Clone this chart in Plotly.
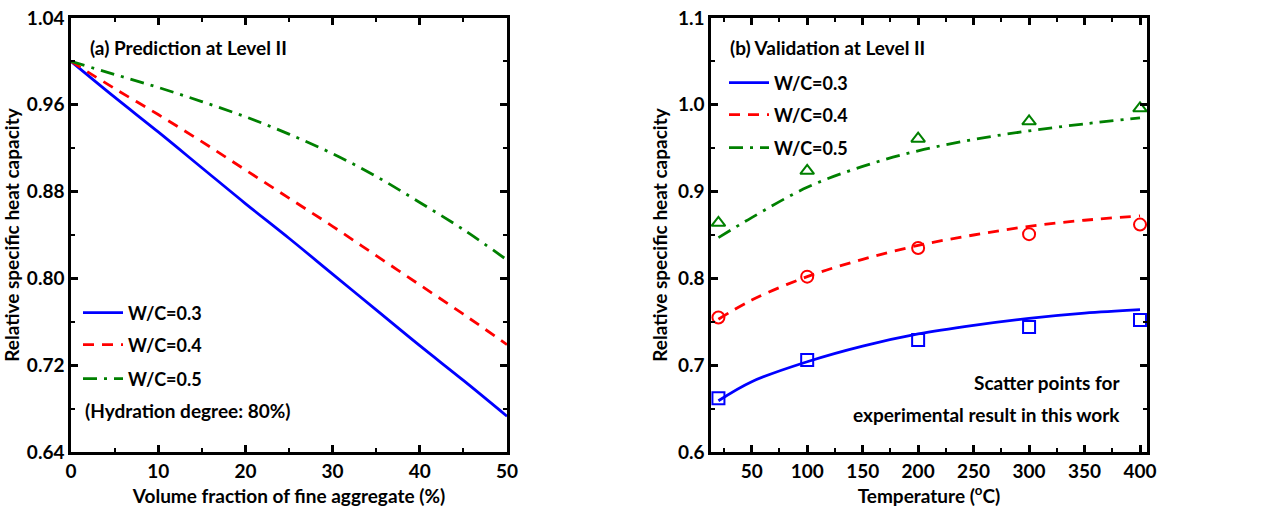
import plotly.graph_objects as go

W, H = 1284, 517

# ---------------- data: panel (a) ----------------
frac = [0, 5, 10, 15, 20, 25, 30, 35, 40, 45, 50]
pred_wc03 = [1.000, 0.967, 0.935, 0.902, 0.869, 0.837, 0.804, 0.771, 0.738, 0.706, 0.673]
pred_wc04 = [1.000, 0.975, 0.951, 0.926, 0.900, 0.874, 0.848, 0.821, 0.794, 0.767, 0.739]
pred_wc05 = [1.000, 0.988, 0.976, 0.963, 0.949, 0.933, 0.915, 0.894, 0.870, 0.845, 0.817]

# ---------------- data: panel (b) ----------------
temp_fit = [20, 50, 100, 150, 200, 250, 300, 350, 400]
fit_wc03 = [0.659, 0.681, 0.704, 0.722, 0.736, 0.746, 0.754, 0.760, 0.764]
fit_wc04 = [0.753, 0.775, 0.802, 0.822, 0.838, 0.850, 0.860, 0.867, 0.872]
fit_wc05 = [0.847, 0.870, 0.905, 0.929, 0.947, 0.960, 0.970, 0.978, 0.985]

temp_exp = [20, 100, 200, 300, 400]
exp_wc03 = [0.662, 0.706, 0.729, 0.744, 0.752]
exp_wc04 = [0.755, 0.802, 0.835, 0.851, 0.862]
exp_wc05 = [0.864, 0.924, 0.961, 0.981, 0.996]

labels = ["W/C=0.3", "W/C=0.4", "W/C=0.5"]
colors = ["#0000FF", "#FF0000", "#008000"]
dashes = ["solid", "11px,8px", "14px,7px,3px,7px"]
symbols = ["square-open", "circle-open", "triangle-up-open"]

FONT = "Lato"
FS = 19

fig = go.Figure()

for i, ys in enumerate([pred_wc03, pred_wc04, pred_wc05]):
    fig.add_trace(go.Scatter(
        x=frac, y=ys, mode="lines", name=labels[i],
        line=dict(color=colors[i], width=2.8, dash=dashes[i], shape="spline"),
        xaxis="x", yaxis="y", legend="legend" if i == 0 else f"legend{i+1}",
    ))

for i, ys in enumerate([fit_wc03, fit_wc04, fit_wc05]):
    fig.add_trace(go.Scatter(
        x=temp_fit, y=ys, mode="lines", name=labels[i],
        line=dict(color=colors[i], width=2.8, dash=dashes[i], shape="spline"),
        xaxis="x2", yaxis="y2", legend=f"legend{i+4}",
    ))

for i, ys in enumerate([exp_wc03, exp_wc04, exp_wc05]):
    fig.add_trace(go.Scatter(
        x=temp_exp, y=ys, mode="markers", showlegend=False,
        marker=dict(symbol=symbols[i], size=12, color=colors[i],
                    line=dict(width=2, color=colors[i])),
        xaxis="x2", yaxis="y2",
    ))

ydom = [(H - 452) / H, (H - 18) / H]

axis_common = dict(
    showline=True, linewidth=2.5, linecolor="black", mirror="allticks",
    ticks="inside", ticklen=7, tickwidth=2.5, tickcolor="black",
    showgrid=False, zeroline=False, automargin=False,
    tickfont=dict(family=FONT, size=FS, color="black", weight="bold"),
)
title_font = dict(family=FONT, size=19, color="black", weight="bold")

fig.update_layout(
    width=W, height=H,
    margin=dict(l=0, r=0, t=0, b=0, autoexpand=False),
    paper_bgcolor="white", plot_bgcolor="white",
    font=dict(family=FONT, size=FS, color="black", weight="bold"),
    xaxis=dict(domain=[71 / W, 507 / W], range=[0, 50], tick0=0, dtick=10,
               minor=dict(dtick=5, ticks="inside", ticklen=4, tickwidth=2, tickcolor="black"),
               title=dict(text="Volume fraction of fine aggregate (%)", font=title_font, standoff=10),
               anchor="y", **axis_common),
    yaxis=dict(domain=ydom, range=[0.64, 1.04], tick0=0.64, dtick=0.08, tickformat=".2f",
               minor=dict(dtick=0.04, ticks="inside", ticklen=4, tickwidth=2, tickcolor="black"),
               title=dict(text="Relative specific heat capacity", font=title_font, standoff=6),
               anchor="x", **axis_common),
    xaxis2=dict(domain=[711 / W, 1147 / W], range=[13.3, 406.3], tick0=0, dtick=50,
                minor=dict(dtick=25, ticks="inside", ticklen=4, tickwidth=2, tickcolor="black"),
                title=dict(text="Temperature (<sup>o</sup>C)", font=title_font, standoff=10),
                anchor="y2", **axis_common),
    yaxis2=dict(domain=ydom, range=[0.6, 1.1], tick0=0.6, dtick=0.1, tickformat=".1f",
                minor=dict(dtick=0.05, ticks="inside", ticklen=4, tickwidth=2, tickcolor="black"),
                title=dict(text="Relative specific heat capacity", font=title_font, standoff=6),
                anchor="x2", **axis_common),
)

leg_font = dict(family=FONT, size=18, color="black", weight="bold")
left_y = [313, 345, 379]
right_y = [83, 115, 148]
for i in range(3):
    key = "legend" if i == 0 else f"legend{i+1}"
    fig.update_layout({key: dict(x=78 / W, y=1 - left_y[i] / H, xanchor="left", yanchor="middle",
                                 bgcolor="rgba(0,0,0,0)", borderwidth=0, font=leg_font,
                                 itemwidth=40)})
    fig.update_layout({f"legend{i+4}": dict(x=724 / W, y=1 - right_y[i] / H, xanchor="left",
                                           yanchor="middle", bgcolor="rgba(0,0,0,0)",
                                           borderwidth=0, font=leg_font, itemwidth=40)})

ann_font = dict(family=FONT, size=FS, color="black", weight="bold")
annots = [
    ("(a) Prediction at Level II", 88, 47, "left"),
    ("(Hydration degree: 80%)", 83, 410, "left"),
    ("(b) Validation at Level II", 728, 47, "left"),
    ("Scatter points for", 1122, 382, "right"),
    ("experimental result in this work", 1122, 414, "right"),
]
for text, px, py, anchor in annots:
    fig.add_annotation(text=text, x=px / W, y=1 - py / H, xref="paper", yref="paper",
                       xanchor=anchor, yanchor="middle", showarrow=False, font=ann_font)

fig.write_html("out.html")
